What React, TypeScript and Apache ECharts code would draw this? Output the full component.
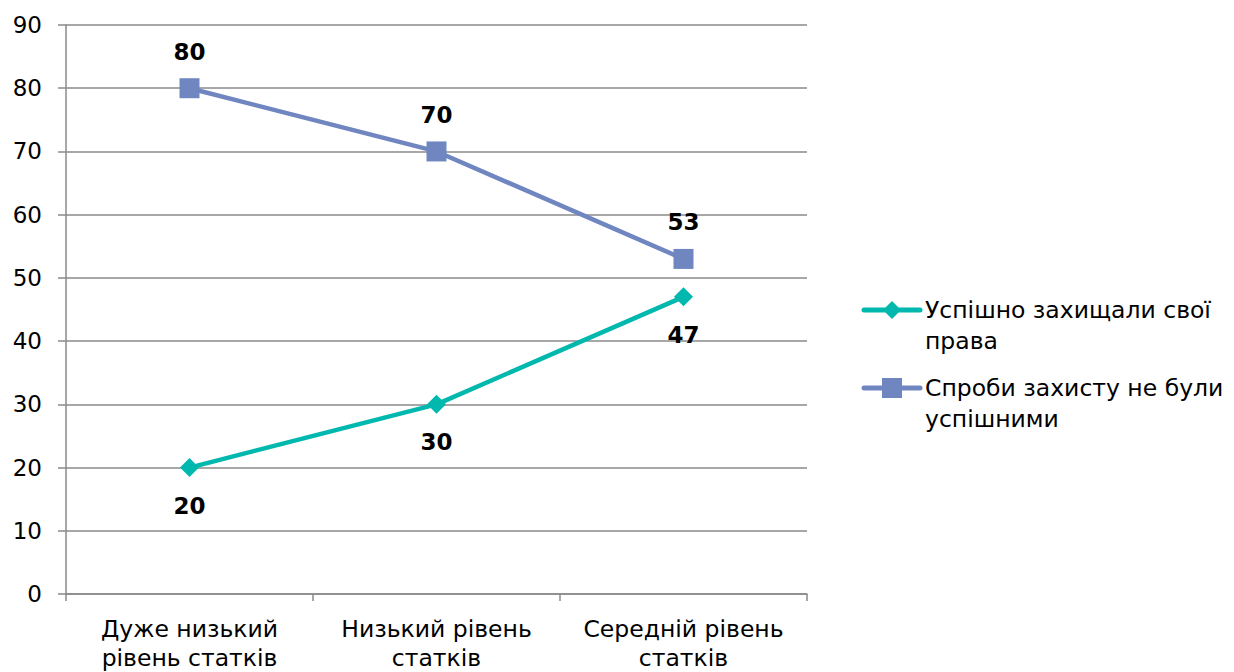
import React, { useEffect, useRef } from "react";
import * as echarts from "echarts";

const categories = ["Дуже низький\nрівень статків", "Низький рівень\nстатків", "Середній рівень\nстатків"];
const seriesNames = ["Успішно захищали свої\nправа", "Спроби захисту не були\nуспішними"];
const successValues = [20, 30, 47];
const failValues = [80, 70, 53];
const yTicks = { min: 0, max: 90, interval: 10 };

const TEAL = "#00B8AD";
const BLUE = "#6F86C0";
const GRID = "#8a8a8a";
const FONT = "'DejaVu Sans', sans-serif";

export default function App() {
  const ref = useRef<HTMLDivElement>(null);
  useEffect(() => {
    if (!ref.current) return;
    const chart = echarts.init(ref.current, null, { renderer: "svg" });
    const legendX = 864;
    const legendRows = [310, 388];
    chart.setOption({
      animation: false,
      textStyle: { fontFamily: FONT },
      grid: { left: 66, right: 427, top: 25, bottom: 76, containLabel: false },
      xAxis: {
        type: "category",
        data: categories,
        boundaryGap: true,
        axisLine: { lineStyle: { color: GRID, width: 1.5 } },
        axisTick: { show: true, interval: 0, length: 7, lineStyle: { color: GRID, width: 1.5 } },
        axisLabel: { color: "#000", interval: 0, hideOverlap: false, fontSize: 23.5, lineHeight: 29, margin: 20, fontFamily: FONT },
      },
      yAxis: {
        type: "value",
        min: yTicks.min,
        max: yTicks.max,
        interval: yTicks.interval,
        axisLine: { show: true, lineStyle: { color: GRID, width: 1.5 } },
        axisTick: { show: true, length: 8, lineStyle: { color: GRID, width: 1.5 } },
        axisLabel: { color: "#000", fontSize: 23, margin: 24, fontFamily: FONT },
        splitLine: { show: true, lineStyle: { color: GRID, width: 1.5 } },
      },
      series: [
        {
          name: seriesNames[0],
          type: "line",
          data: successValues,
          symbol: "diamond",
          symbolSize: 19,
          lineStyle: { color: TEAL, width: 4.5 },
          itemStyle: { color: TEAL },
          label: {
            show: true,
            position: "bottom",
            distance: 17,
            color: "#000",
            fontWeight: "bold",
            fontSize: 23,
            fontFamily: FONT,
          },
        },
        {
          name: seriesNames[1],
          type: "line",
          data: failValues,
          symbol: "rect",
          symbolSize: 20,
          lineStyle: { color: BLUE, width: 4.5 },
          itemStyle: { color: BLUE },
          label: {
            show: true,
            position: "top",
            distance: 15,
            color: "#000",
            fontWeight: "bold",
            fontSize: 23,
            fontFamily: FONT,
          },
        },
      ],
      graphic: [
        { type: "line", shape: { x1: legendX, y1: legendRows[0], x2: legendX + 56, y2: legendRows[0] }, style: { stroke: TEAL, lineWidth: 5, lineCap: "round" } },
        { type: "polygon", shape: { points: [[legendX + 28, legendRows[0] - 9], [legendX + 37, legendRows[0]], [legendX + 28, legendRows[0] + 9], [legendX + 19, legendRows[0]]] }, style: { fill: TEAL } },
        { type: "text", x: legendX + 61, y: legendRows[0] - 15.5, style: { text: seriesNames[0], fill: "#000", fontSize: 23.5, lineHeight: 31, fontFamily: FONT, verticalAlign: "top" } },
        { type: "line", shape: { x1: legendX, y1: legendRows[1], x2: legendX + 56, y2: legendRows[1] }, style: { stroke: BLUE, lineWidth: 5, lineCap: "round" } },
        { type: "rect", shape: { x: legendX + 18, y: legendRows[1] - 10, width: 20, height: 20 }, style: { fill: BLUE } },
        { type: "text", x: legendX + 61, y: legendRows[1] - 15.5, style: { text: seriesNames[1], fill: "#000", fontSize: 23.5, lineHeight: 31, fontFamily: FONT, verticalAlign: "top" } },
      ],
    });
    return () => chart.dispose();
  }, []);
  return <div ref={ref} style={{ width: 1234, height: 672, position: "absolute", left: 0, top: 0 }} />;
}
